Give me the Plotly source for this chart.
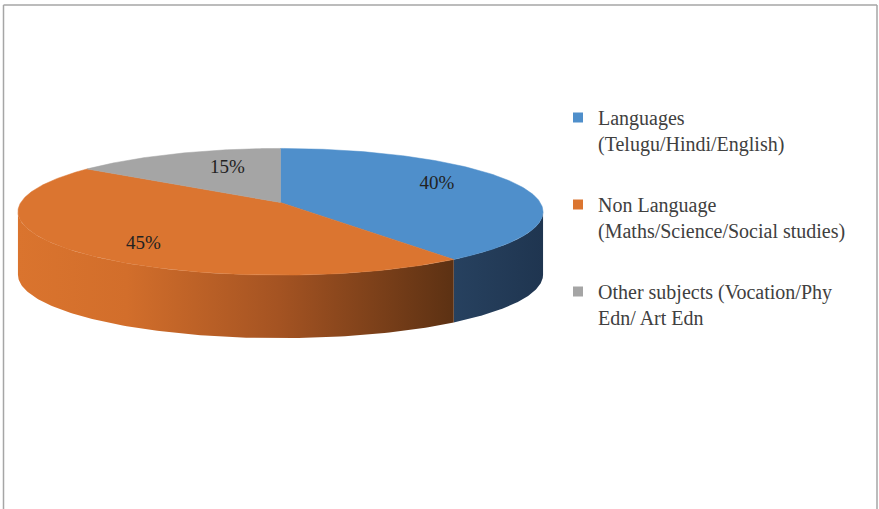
import numpy as np
import plotly.graph_objects as go

# ---- data -------------------------------------------------------------
categories = [
    "Languages<br>(Telugu/Hindi/English)",
    "Non Language<br>(Maths/Science/Social studies)",
    "Other subjects (Vocation/Phy<br>Edn/ Art Edn",
]
shares = [40, 45, 15]

# ---- styling ----------------------------------------------------------
top_colors = ["#4F8FCB", "#DB7530", "#A5A5A5"]
side_scales = [
    [[0, "#27415F"], [1, "#1F3550"]],
    [[0, "#DA742E"], [0.25, "#D26E2B"], [0.6, "#A45322"], [1, "#5C3113"]],
    [[0, "#8A8A8A"], [1, "#5E5E5E"]],
]
label_radius = [0.70, 0.78, 0.65]
label_turn = [-8, -7, 7]
FONT = "Liberation Serif"

# pie geometry in pixel space (tilted disc with mild perspective)
CX, CY = 280.5, 202.5
RX, RY = 259.7, 62.0
PERSP = 0.147
DEPTH = 63.0
W, H = 879, 509


def project(phi_deg, r=1.0, drop=0.0):
    phi = np.radians(np.asarray(phi_deg, dtype=float))
    k = 1 + PERSP * r * np.cos(phi)
    x = CX + RX * r * np.sin(phi) / k
    y = CY - RY * r * np.cos(phi) / k + drop
    return x, y


total = float(sum(shares))
bounds = np.concatenate([[0.0], np.cumsum(shares) / total * 360.0])
vis0 = np.degrees(np.arccos(-PERSP))
vis1 = 360.0 - vis0

fig = go.Figure()

# side walls (front-facing part of the rim)
for i in range(len(shares)):
    a0, a1 = max(bounds[i], vis0), min(bounds[i + 1], vis1)
    if a1 <= a0:
        continue
    phis = np.linspace(a0, a1, 120)
    xt, yt = project(phis)
    xb, yb = project(phis[::-1], drop=DEPTH)
    fig.add_trace(go.Scatter(
        x=np.concatenate([xt, xb]), y=np.concatenate([yt, yb]),
        mode="lines", line=dict(width=0), fill="toself",
        fillgradient=dict(type="horizontal", colorscale=side_scales[i]),
        hoverinfo="skip", showlegend=False,
    ))

# top faces
for i in range(len(shares)):
    phis = np.linspace(bounds[i], bounds[i + 1], 200)
    xa, ya = project(phis)
    fig.add_trace(go.Scatter(
        x=np.concatenate([[CX], xa, [CX]]), y=np.concatenate([[CY], ya, [CY]]),
        mode="lines", line=dict(width=0.5, color=top_colors[i]),
        fill="toself", fillcolor=top_colors[i],
        hoverinfo="skip", showlegend=False,
    ))

# percentage labels
mids = (bounds[:-1] + bounds[1:]) / 2
lx, ly = [], []
for i in range(len(shares)):
    x, y = project(mids[i] + label_turn[i], r=label_radius[i])
    lx.append(float(x))
    ly.append(float(y))
fig.add_trace(go.Scatter(
    x=lx, y=ly, mode="text", text=[f"{v}%" for v in shares],
    textposition="middle center",
    textfont=dict(family=FONT, size=19, color="#222222"),
    hoverinfo="skip", showlegend=False,
))

# legend entries
for i, name in enumerate(categories):
    fig.add_trace(go.Scatter(
        x=[None], y=[None], mode="markers", name=name,
        marker=dict(symbol="square", size=10, color=top_colors[i]),
        legendgroup=f"g{i}", showlegend=True,
    ))

# chart frame
frame = dict(type="line", xref="paper", yref="paper",
             line=dict(color="#A6A6A6", width=1.5))
fig.add_shape(x0=3.5 / W, x1=877 / W, y0=1 - 5 / H, y1=1 - 5 / H, **frame)
fig.add_shape(x0=3.5 / W, x1=3.5 / W, y0=0, y1=1 - 5 / H, **frame)
fig.add_shape(x0=877 / W, x1=877 / W, y0=0, y1=1 - 5 / H, **frame)

fig.update_layout(
    width=W, height=H, margin=dict(l=0, r=0, t=0, b=0),
    paper_bgcolor="white", plot_bgcolor="white",
    xaxis=dict(range=[0, W], visible=False, fixedrange=True),
    yaxis=dict(range=[H, 0], visible=False, fixedrange=True),
    legend=dict(
        x=558 / W, xanchor="left", y=1 - 98 / H, yanchor="top",
        valign="top", traceorder="grouped", tracegroupgap=32,
        itemwidth=30,
        font=dict(family=FONT, size=20, color="#404040"),
        bgcolor="rgba(0,0,0,0)",
    ),
)

fig.write_html("out.html")
